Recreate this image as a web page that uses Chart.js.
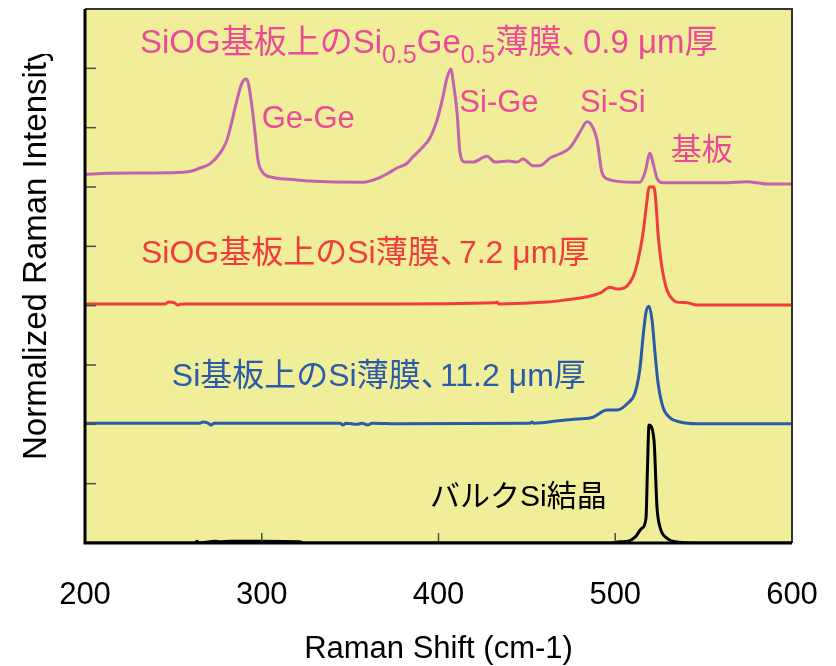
<!DOCTYPE html>
<html>
<head>
<meta charset="utf-8">
<script src="https://cdn.jsdelivr.net/npm/chart.js@4.4.1/dist/chart.umd.min.js"></script>
<style>
    html, body { margin: 0; padding: 0; background: #fff; }
    canvas { display: block; }
</style>
</head>
<body>
<canvas id="raman" width="836" height="666"></canvas>
<script>
// axis ticks
const xTickValues = [200, 300, 400, 500, 600];
const yTickValues = [0, 1, 2, 3, 4, 5, 6, 7, 8, 9];

// Si0.5Ge0.5 film on SiOG (offset +6)
const sigeShift = [200, 213, 246.4, 260.5, 265.1, 270.7, 276.4, 280.3, 283.7, 286,
    288.8, 291.1, 292.2, 294.5, 296.2, 297.9, 300.7, 306.4, 316, 327.3,
    357.3, 366.9, 372.6, 376.5, 382.2, 385.6, 390.7, 395.2, 399.7, 402.5,
    404.8, 407.1, 408.2, 410.5, 412.2, 415, 419.5, 427.4, 432, 439.3,
    444.4, 447.8, 453.5, 457.4, 463.1, 468.7, 474.4, 480.1, 484, 485.7,
    489.7, 492.5, 497, 510, 514, 516.8, 519.7, 521.4, 523.6, 527,
    561, 574.5, 585.9, 600];
const sigeIntensity = [6.21, 6.23, 6.24, 6.27, 6.32, 6.39, 6.57, 6.79, 7.18, 7.47,
    7.75, 7.82, 7.77, 7.35, 6.91, 6.45, 6.24, 6.16, 6.13, 6.10,
    6.08, 6.16, 6.25, 6.32, 6.40, 6.51, 6.66, 6.83, 7.18, 7.52,
    7.84, 7.99, 7.80, 7.25, 6.57, 6.42, 6.42, 6.52, 6.42, 6.44,
    6.42, 6.47, 6.36, 6.36, 6.49, 6.56, 6.66, 6.93, 7.10, 7.08,
    6.79, 6.24, 6.12, 6.08, 6.08, 6.24, 6.57, 6.40, 6.15, 6.07,
    6.07, 6.09, 6.05, 6.05];

// Si film on SiOG, 7.2 um (offset +4)
const siogShift = [200, 245.3, 247.5, 250.4, 252.6, 254.9, 366.9, 432, 433.1, 434.2,
    461.4, 472.7, 484, 491.4, 497, 501, 506.6, 510, 512.9, 515.7,
    518, 519.1, 521.9, 523.1, 524.2, 526.4, 529.3, 532.7, 534.9, 540.6,
    546.3, 600];
const siogIntensity = [4.03, 4.03, 4.06, 4.05, 4.01, 4.03, 4.03, 4.05, 4.06, 4.03,
    4.06, 4.10, 4.15, 4.21, 4.31, 4.28, 4.33, 4.48, 4.77, 5.22,
    5.78, 6.00, 6.00, 5.70, 5.22, 4.65, 4.26, 4.10, 4.06, 4.05,
    4.01, 4.01];

// Si film on Si, 11.2 um (offset +2)
const siOnSiShift = [200, 265.1, 266.8, 269.6, 271.3, 273, 344.3, 346, 347.7, 353.9,
    356.7, 360.1, 362.4, 378.2, 451.8, 452.9, 454, 470.4, 478.4, 487.4,
    495.3, 501, 507.2, 511.2, 514, 515.7, 517.4, 519.1, 520.8, 522.5,
    524.2, 527, 531, 536.6, 546.3, 600];
const siOnSiIntensity = [2.02, 2.02, 2.04, 2.02, 1.99, 2.02, 2.02, 1.99, 2.02, 2.00,
    2.02, 1.99, 2.02, 2.01, 2.02, 2.04, 2.02, 2.07, 2.09, 2.12,
    2.24, 2.24, 2.36, 2.53, 2.95, 3.47, 3.89, 3.99, 3.76, 3.20,
    2.70, 2.29, 2.11, 2.04, 2.01, 2.01];

// bulk Si crystal
const bulkShift = [200, 262.2, 263.4, 264.5, 270.7, 273.6, 276.4, 282, 299, 321.6,
    323.3, 495.3, 502.7, 507.2, 511.2, 515.1, 517.4, 518.2, 519.1, 521.9,
    523.6, 525.3, 529.3, 533.8, 546.3, 600];
const bulkIntensity = [0, 0, 0.03, 0, 0.02, 0.03, 0.02, 0.03, 0.03, 0.02,
    0, 0, 0.02, 0.03, 0.10, 0.25, 0.42, 1.23, 1.99, 1.74,
    0.61, 0.27, 0.08, 0.02, 0, 0];

const FONT = '"Liberation Sans", Arial, "Noto Sans CJK JP", sans-serif';
const PLOT_BG = '#f0ee98';
const PINK = '#ea4a98';
const RED = '#f03c3c';
const BLUE = '#2b5aa8';

// text labels placed in data coordinates; parts are [text, subscript, advance in em]
const notes = [
    { parts: [['SiOG基板上のSi'], ['0.5', true], ['Ge'], ['0.5', true], ['薄膜'], ['、', false, 0.65], ['0.9 μm厚']], x: 231.1, y: 8.26, color: PINK, size: 33 },
    { parts: [['Ge-Ge']], x: 300, y: 6.99, color: PINK, size: 31 },
    { parts: [['Si-Ge']], x: 411.8, y: 7.26, color: PINK, size: 31 },
    { parts: [['Si-Si']], x: 480.1, y: 7.26, color: PINK, size: 31 },
    { parts: [['基板']], x: 531.4, y: 6.46, color: PINK, size: 31 },
    { parts: [['SiOG基板上のSi薄膜'], ['、', false, 0.6], ['7.2 μm厚']], x: 231.7, y: 4.72, color: RED, size: 32 },
    { parts: [['Si基板上のSi薄膜'], ['、', false, 0.6], ['11.2 μm厚']], x: 249.1, y: 2.65, color: BLUE, size: 32 },
    { parts: [['バルクSi結晶']], x: 395.2, y: 0.62, color: '#000', size: 30 },
];

function pairs(xs, ys) {
    return xs.map((x, i) => ({ x: x, y: ys[i] }));
}

function series(label, xs, ys, color) {
    return {
        label: label,
        data: pairs(xs, ys),
        borderColor: color,
        borderWidth: 3,
        pointRadius: 0,
        fill: false,
        cubicInterpolationMode: 'monotone',
    };
}

const framePlugin = {
    id: 'frame',
    beforeDatasetsDraw(chart) {
        const { ctx, chartArea: a } = chart;
        ctx.save();
        ctx.fillStyle = PLOT_BG;
        ctx.fillRect(a.left, a.top, a.right - a.left, a.bottom - a.top);
        ctx.restore();
    },
    afterDraw(chart) {
        const { ctx, chartArea: a, scales } = chart;
        ctx.save();

        // inward tick marks
        ctx.strokeStyle = '#4d4d4d';
        ctx.lineWidth = 1.5;
        for (const t of scales.x.ticks) {
            const px = scales.x.getPixelForValue(t.value);
            ctx.beginPath();
            ctx.moveTo(px, a.bottom);
            ctx.lineTo(px, a.bottom - 10);
            ctx.stroke();
        }
        for (const t of scales.y.ticks) {
            const py = scales.y.getPixelForValue(t.value);
            ctx.beginPath();
            ctx.moveTo(a.left, py);
            ctx.lineTo(a.left + 11, py);
            ctx.stroke();
        }

        // box
        ctx.strokeStyle = '#333';
        ctx.lineWidth = 2;
        ctx.beginPath();
        ctx.moveTo(a.left, a.top);
        ctx.lineTo(a.right, a.top);
        ctx.lineTo(a.right, a.bottom);
        ctx.stroke();
        ctx.strokeStyle = '#000';
        ctx.lineWidth = 3;
        ctx.beginPath();
        ctx.moveTo(a.left, a.top);
        ctx.lineTo(a.left, a.bottom);
        ctx.lineTo(a.right, a.bottom);
        ctx.stroke();

        // annotations
        ctx.textBaseline = 'alphabetic';
        ctx.textAlign = 'left';
        for (const n of notes) {
            let px = scales.x.getPixelForValue(n.x);
            const py = scales.y.getPixelForValue(n.y);
            ctx.fillStyle = n.color;
            for (const [text, sub, advance] of n.parts) {
                const size = sub ? Math.round(n.size * 0.75) : n.size;
                ctx.font = `${size}px ${FONT}`;
                ctx.fillText(text, px, sub ? py + 10 : py);
                px += advance ? advance * size : ctx.measureText(text).width;
            }
        }

        // y axis title, cut off at the top like the original
        ctx.beginPath();
        ctx.rect(0, 54, a.left, chart.height);
        ctx.clip();
        ctx.translate(46, 460);
        ctx.rotate(-Math.PI / 2);
        ctx.font = `33px ${FONT}`;
        ctx.fillStyle = '#000';
        ctx.fillText('Normalized Raman Intensity', 0, 0);

        ctx.restore();
    },
};

new Chart(document.getElementById('raman').getContext('2d'), {
    type: 'line',
    data: {
        datasets: [
            series('SiOG基板上のSi0.5Ge0.5薄膜、0.9 μm厚', sigeShift, sigeIntensity, '#c462b2'),
            series('SiOG基板上のSi薄膜、7.2 μm厚', siogShift, siogIntensity, RED),
            series('Si基板上のSi薄膜、11.2 μm厚', siOnSiShift, siOnSiIntensity, BLUE),
            series('バルクSi結晶', bulkShift, bulkIntensity, '#000'),
        ],
    },
    options: {
        responsive: false,
        animation: false,
        layout: { padding: { top: 9, right: 44, bottom: 0, left: 0 } },
        plugins: { legend: { display: false }, tooltip: { enabled: false } },
        scales: {
            x: {
                type: 'linear',
                min: 200,
                max: 600,
                afterBuildTicks: s => { s.ticks = xTickValues.map(v => ({ value: v })); },
                afterFit: s => {
                    s.height = 123;
                    s.paddingLeft = 0;
                    s.paddingRight = 0;
                },
                grid: { display: false, drawTicks: false },
                border: { display: false },
                ticks: { color: '#000', font: { size: 31, family: FONT }, padding: 34, maxRotation: 0, autoSkip: false },
                title: {
                    display: true,
                    text: 'Raman Shift (cm-1)',
                    color: '#000',
                    font: { size: 31, family: FONT },
                    padding: { top: 0, bottom: -2 },
                },
            },
            y: {
                type: 'linear',
                min: 0,
                max: 9,
                afterBuildTicks: s => { s.ticks = yTickValues.map(v => ({ value: v })); },
                afterFit: s => { s.width = 85; },
                grid: { display: false, drawTicks: false },
                border: { display: false },
                ticks: { display: false },
            },
        },
    },
    plugins: [framePlugin],
});
</script>
</body>
</html>
